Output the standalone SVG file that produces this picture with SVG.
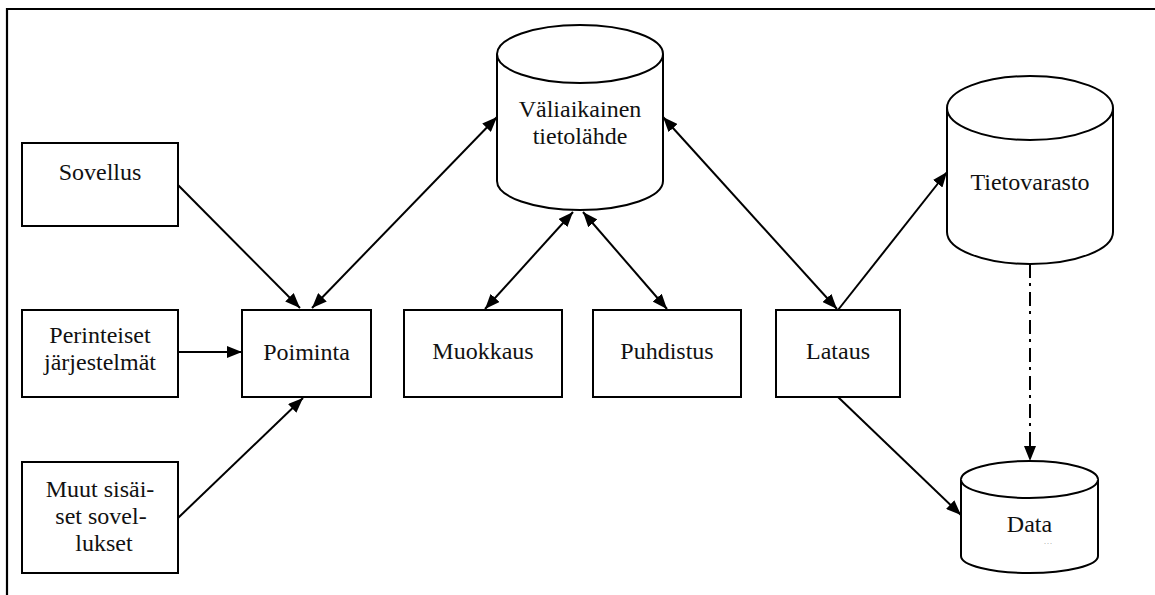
<svg xmlns="http://www.w3.org/2000/svg" width="1155" height="595" viewBox="0 0 1155 595">
<defs>
<marker id="ah" markerUnits="userSpaceOnUse" markerWidth="15" markerHeight="12" refX="15" refY="6" orient="auto-start-reverse" viewBox="0 0 15 12">
<path d="M0,0 L15,6 L0,12 z" fill="#000"/>
</marker>
<style>
.box{fill:#fff;stroke:#000;stroke-width:2}
.cyl{fill:#fff;stroke:#000;stroke-width:2}
.t{font-family:"Liberation Serif","Times New Roman",serif;font-size:24px;fill:#111;text-anchor:middle}
.c{fill:none;stroke:#000;stroke-width:2}
.one{marker-end:url(#ah)}
.two{marker-start:url(#ah);marker-end:url(#ah)}
.dd{stroke-dasharray:14 5 3 6}
</style>
</defs>
<rect width="1155" height="595" fill="#fff"/>
<g id="frame">
<path d="M7,595 L7,9 L1155,9" fill="none" stroke="#000" stroke-width="2.2"/>
</g>
<g id="connectors">
<line class="c one" x1="178" y1="185" x2="300" y2="308"/>
<line class="c one" x1="178" y1="352" x2="242" y2="352"/>
<line class="c one" x1="178" y1="518" x2="303" y2="398"/>
<line class="c two" x1="312" y1="308" x2="497" y2="117"/>
<line class="c two" x1="573" y1="212" x2="485" y2="309"/>
<line class="c two" x1="583" y1="212" x2="667" y2="309"/>
<line class="c two" x1="663" y1="117" x2="837" y2="309"/>
<line class="c one" x1="838" y1="310" x2="947" y2="172"/>
<line class="c one" x1="838" y1="397" x2="961" y2="515"/>
<line class="c one dd" x1="1030" y1="264" x2="1030" y2="461"/>
</g>
<g id="sovellus">
<rect class="box" x="22" y="143" width="156" height="83"/>
<text class="t" x="100" y="180">Sovellus</text>
</g>
<g id="perinteiset">
<rect class="box" x="22" y="310" width="156" height="87"/>
<text class="t" x="100" y="343">Perinteiset</text>
<text class="t" x="100" y="370">järjestelmät</text>
</g>
<g id="muut">
<rect class="box" x="22" y="462" width="156" height="111"/>
<text class="t" x="100" y="497">Muut sisäi-</text>
<text class="t" x="101" y="524">set sovel-</text>
<text class="t" x="104" y="551">lukset</text>
</g>
<g id="poiminta">
<rect class="box" x="242" y="310" width="129" height="87"/>
<text class="t" x="306.5" y="360">Poiminta</text>
</g>
<g id="muokkaus">
<rect class="box" x="404" y="310" width="158" height="87"/>
<text class="t" x="483" y="359">Muokkaus</text>
</g>
<g id="puhdistus">
<rect class="box" x="593" y="310" width="148" height="87"/>
<text class="t" x="667" y="359">Puhdistus</text>
</g>
<g id="lataus">
<rect class="box" x="776" y="310" width="124" height="87"/>
<text class="t" x="838" y="359">Lataus</text>
</g>
<g id="valiaikainen">
<path class="cyl" d="M497,54 A83,29 0 0 1 663,54 L663,181 A83,29 0 0 1 497,181 Z"/>
<path class="cyl" d="M497,54 A83,29 0 0 0 663,54"/>
<text class="t" x="580" y="117">Väliaikainen</text>
<text class="t" x="580" y="144">tietolähde</text>
</g>
<g id="tietovarasto">
<path class="cyl" d="M947,108 A83,32 0 0 1 1113,108 L1113,232 A83,32 0 0 1 947,232 Z"/>
<path class="cyl" d="M947,108 A83,32 0 0 0 1113,108"/>
<text class="t" x="1030" y="190">Tietovarasto</text>
</g>
<g id="data">
<path class="cyl" d="M961,479.5 A68.5,18.5 0 0 1 1098,479.5 L1098,556 A68.5,17 0 0 1 961,556 Z"/>
<path class="cyl" d="M961,479.5 A68.5,18.5 0 0 0 1098,479.5"/>
<text class="t" x="1029.5" y="532">Data</text>
<text x="1048" y="544" font-family="Liberation Serif, serif" font-size="6" fill="#777" text-anchor="middle">. . .</text>
</g>
</svg>
